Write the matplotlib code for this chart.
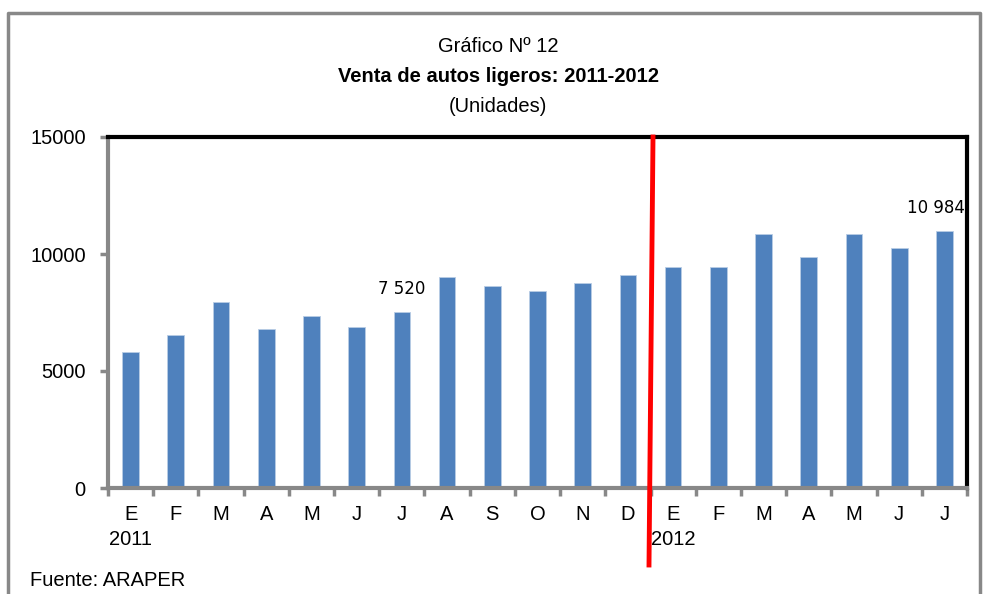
import matplotlib
matplotlib.use("Agg")
import matplotlib.pyplot as plt
import numpy as np
from matplotlib.lines import Line2D

meses = ["E", "F", "M", "A", "M", "J", "J", "A", "S", "O", "N", "D",
         "E", "F", "M", "A", "M", "J", "J"]
ventas = [5830, 6530, 7960, 6810, 7330, 6890, 7520, 9000, 8640, 8400, 8760, 9100,
          9430, 9430, 10860, 9890, 10860, 10240, 10984]
anios = {0: "2011", 12: "2012"}
etiquetas = {6: "7 520", 18: "10 984"}

plt.rcParams["font.family"] = ["Liberation Sans", "DejaVu Sans"]

fig = plt.figure(figsize=(9.83, 5.94), dpi=100)

# marco gris de la figura
fig.add_artist(Line2D([8 / 983, 8 / 983, 980 / 983, 980 / 983],
                      [0, 1 - 13 / 594, 1 - 13 / 594, 0],
                      transform=fig.transFigure, color="#888888", lw=2.5))

ax = fig.add_axes([108 / 983, 1 - 488 / 594, (967 - 108) / 983, (488 - 137) / 594])
x = np.arange(len(ventas))
ax.bar(x, ventas, width=0.37, color="#4F81BD", edgecolor="#B9CDE5", linewidth=0.6, zorder=2)

ax.set_xlim(-0.5, len(ventas) - 0.5)
ax.set_ylim(0, 15000)
ax.set_yticks([0, 5000, 10000, 15000])
ax.set_yticklabels(["0", "5000", "10000", "15000"], fontsize=14.5)

ax.set_xticks(np.arange(-0.5, len(ventas), 1))
ax.set_xticklabels([])
ax.set_xticks(x, minor=True)
ax.set_xticklabels(meses, minor=True, fontsize=14.5)
ax.tick_params(axis="x", which="minor", length=0, pad=12)
ax.tick_params(axis="x", which="major", length=6, width=2.5, color="#888888")
ax.tick_params(axis="y", length=6, width=2.5, color="#888888", pad=10)

for s in ["left", "bottom"]:
    ax.spines[s].set_color("#888888")
    ax.spines[s].set_linewidth(3)
for s in ["top", "right"]:
    ax.spines[s].set_color("black")
    ax.spines[s].set_linewidth(3)

for i, a in anios.items():
    ax.annotate(a, (i, 0), xycoords=("data", "axes fraction"), xytext=(0, -44),
                textcoords="offset points", ha="center", va="bottom", fontsize=14.5)

# la última etiqueta queda algo a la izquierda de su barra, como en el original
desplaz = {6: 0, 18: -6}
for i, t in etiquetas.items():
    ax.annotate(t, (i, ventas[i]), xytext=(desplaz[i], 10), textcoords="offset points",
                ha="center", va="bottom", fontsize=12, family="DejaVu Sans")

fig.text(498 / 983, 1 - 47 / 594, "Gráfico Nº 12", ha="center", va="center", fontsize=14.5)
fig.text(498 / 983, 1 - 76 / 594, "Venta de autos ligeros: 2011-2012", ha="center",
         va="center", fontsize=14.5, fontweight="bold")
fig.text(498 / 983, 1 - 106 / 594, "(Unidades)", ha="center", va="center", fontsize=14.5)
fig.text(30 / 983, 1 - 580 / 594, "Fuente: ARAPER", ha="left", va="center", fontsize=14.5)

# línea roja de separación entre años
fig.add_artist(Line2D([653 / 983, 649 / 983], [1 - 137 / 594, 1 - 565 / 594],
                      transform=fig.transFigure, color="red", lw=3.5))

fig.savefig("out.png", dpi=100)
